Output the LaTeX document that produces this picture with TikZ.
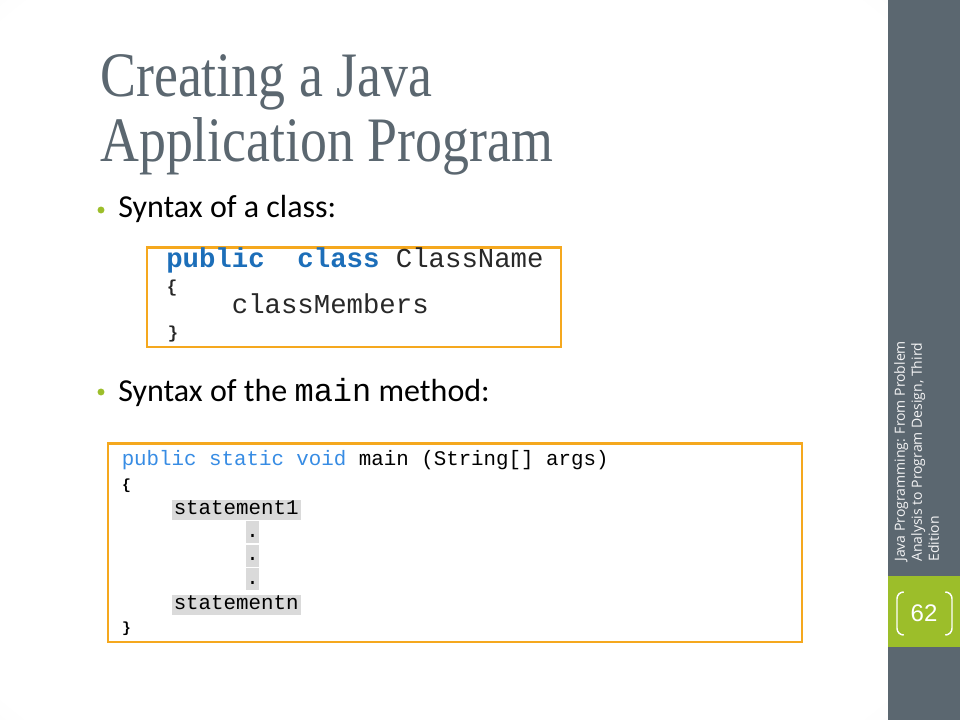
\documentclass[tikz,border=0pt]{standalone}
\usepackage{fontspec}
\setmainfont{Carlito}
\newfontfamily\titlefont[FakeStretch=0.85]{Liberation Serif}
\newfontfamily\codefont{Liberation Mono}
\newfontfamily\sidefont{Open Sans}
\newfontfamily\numfont{Liberation Sans}
\usepackage{xcolor}
\definecolor{slate}{RGB}{91,103,112}
\definecolor{leaf}{RGB}{156,190,42}
\definecolor{frameorange}{RGB}{245,168,30}
\definecolor{keyblue}{RGB}{28,110,185}
\definecolor{keysky}{RGB}{55,140,228}
\definecolor{hlgray}{RGB}{218,218,218}
\definecolor{codeink}{RGB}{40,40,40}
\pgfdeclareradialshading{slidebg}{\pgfpoint{0bp}{0bp}}{color(0bp)=(white); color(34bp)=(white); color(71bp)=(black!20)}

\tikzset{
  codebox/.style={draw=frameorange, line width=1.9pt},
  txt/.style={anchor=base west, inner sep=0pt},
  bigcode/.style={txt, text=codeink, font=\codefont\fontsize{20.5}{24}\selectfont},
  smallcode/.style={txt, text=black, font=\codefont\fontsize{15.6}{19}\selectfont},
  bigbrace/.style={inner sep=0pt, text=codeink, font=\codefont\bfseries\fontsize{13}{14}\selectfont},
  smallbrace/.style={inner sep=0pt, text=black, font=\codefont\bfseries\fontsize{11}{12}\selectfont},
  hl/.style={smallcode, fill=hlgray, inner xsep=1.5pt, inner ysep=0pt, text height=10.5pt, text depth=4.7pt},
  dotbox/.style={smallcode, fill=hlgray, inner xsep=0pt, inner ysep=0pt, text height=12pt, text depth=4.7pt},
  bullet/.style={circle, fill=leaf, inner sep=0pt, minimum size=5.2pt},
  bracket/.style={draw=white, line width=1.1pt, rounded corners=5pt}
}

\begin{document}
\begin{tikzpicture}[x=0.75pt,y=0.75pt,yscale=-1,xscale=1]
\useasboundingbox (0,0) rectangle (960,720);

%Shape: slide background
\shade[shading=slidebg] (0,0) rectangle (888,720);
\fill[slate] (888,0) rectangle (960,720);
\fill[leaf] (888,576) rectangle (960,647);

% Title
\node[txt, text=slate, font=\titlefont\fontsize{47.5}{56}\selectfont] (title1) at (100,97) {Creating a Java};
\node[txt, text=slate, font=\titlefont\fontsize{47.5}{56}\selectfont] (title2) at (100,162) {Application Program};

% Bullets
\node[bullet] (dot1) at (101,210) {};
\node[txt, font=\fontsize{24}{29}\selectfont] (syntaxclass) at (118,218) {Syntax of a class:};
\node[bullet] (dot2) at (101,392) {};
\node[txt, font=\fontsize{24}{29}\selectfont] (syntaxmain) at (118,401) {Syntax of the {\codefont main} method:};

%Shape: Rectangle (class syntax)
\draw[codebox] (147,247.5) rectangle (561,347);
\node[bigcode] (classhead) at (166,268) {{\bfseries\color{keyblue}public\ \ class}\ ClassName};
\node[bigbrace] (classopen) at (172,288.5) {\{};
\node[bigcode] (classbody) at (166,313) {\ \ \ \ classMembers};
\node[bigbrace] (classclose) at (173,334) {\}};

%Shape: Rectangle (main syntax)
\draw[codebox] (108,443.5) rectangle (802,642);
\node[smallcode] (mainhead) at (121.5,465) {{\color{keysky}public static void}\ main\ (String[]\ args)};
\node[smallbrace] (mainopen) at (126.5,486) {\{};
\node[hl] (stmtfirst) at (171.5,514) {statement1};
\foreach \y [count=\i] in {537,560.5,584}
  \node[dotbox] (gap\i) at (246.2,\y) {.};
\node[hl] (stmtlast) at (171.5,609) {statementn};
\node[smallbrace] (mainclose) at (126.5,628.5) {\}};

% Sidebar text
\node[rotate=90, anchor=north west, align=left, inner sep=0pt, text=white!93!slate,
      font=\sidefont\fontsize{10.5}{12.75}\selectfont] (source) at (894,562)
  {Java Programming: From Problem\\Analysis to Program Design, Third\\Edition};

% Page number
\node[text=white, font=\numfont\fontsize{18}{20}\selectfont] (pagenum) at (924,613) {62};
\draw[bracket] (903,592) -- (897,592) -- (897,635) -- (903,635);
\draw[bracket] (946,592) -- (952,592) -- (952,635) -- (946,635);

\end{tikzpicture}
\end{document}
